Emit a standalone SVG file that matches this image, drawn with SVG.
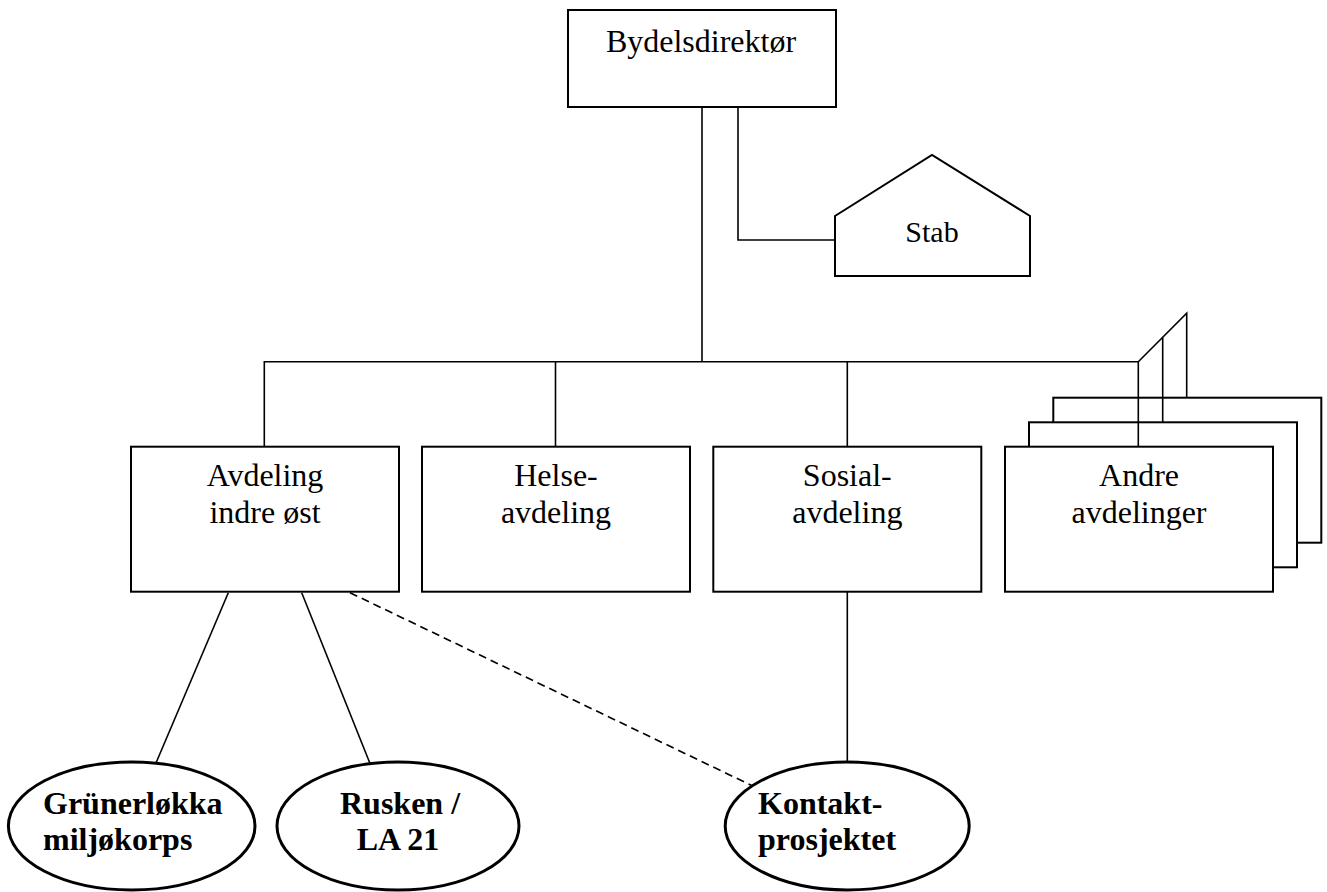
<svg xmlns="http://www.w3.org/2000/svg" width="1327" height="892" viewBox="0 0 1327 892">
<style>
.box{fill:#fff;stroke:#000;stroke-width:2}
.ell{fill:#fff;stroke:#000;stroke-width:3}
.ln{fill:none;stroke:#000;stroke-width:1.6}
.dash{fill:none;stroke:#000;stroke-width:1.6;stroke-dasharray:8 5}
.t{font-family:'Liberation Serif','Times New Roman',Times,'DejaVu Serif',serif;font-size:32px;font-weight:normal;font-style:normal;fill:#000;text-anchor:middle}
.b{font-family:'Liberation Serif','Times New Roman',Times,'DejaVu Serif',serif;font-size:32px;font-weight:bold;fill:#000}
</style>
<rect width="1327" height="892" fill="#fff"/>
<g id="bydelsdirektor">
<rect class="box" x="568" y="10" width="268" height="97"/>
<text class="t" x="701" y="52">Bydelsdirektør</text>
</g>
<g id="stab">
<polygon class="box" points="835,216 932,155 1030,216 1030,276 835,276"/>
<text class="t" x="932" y="242" style="font-size:30px">Stab</text>
</g>
<g id="avdeling-indre-ost">
<rect class="box" x="131" y="446.7" width="268" height="145"/>
<text class="t" x="265" y="486">Avdeling</text>
<text class="t" x="265" y="523">indre øst</text>
</g>
<g id="helseavdeling">
<rect class="box" x="422" y="446.7" width="268" height="145"/>
<text class="t" x="556" y="486">Helse-</text>
<text class="t" x="556" y="523">avdeling</text>
</g>
<g id="sosialavdeling">
<rect class="box" x="713.3" y="446.7" width="268" height="145"/>
<text class="t" x="847.3" y="486">Sosial-</text>
<text class="t" x="847.3" y="523">avdeling</text>
</g>
<g id="andre-avdelinger">
<rect class="box" x="1053.3" y="397.7" width="268" height="145"/>
<rect class="box" x="1029" y="422.3" width="268" height="145"/>
<rect class="box" x="1005" y="446.7" width="268" height="145"/>
<text class="t" x="1139" y="486">Andre</text>
<text class="t" x="1139" y="523">avdelinger</text>
</g>
<g id="grunerlokka-miljokorps">
<ellipse class="ell" cx="131.7" cy="826" rx="123.3" ry="64"/>
<text class="b" x="43" y="814">Grünerløkka</text>
<text class="b" x="43" y="850">miljøkorps</text>
</g>
<g id="rusken-la21">
<ellipse class="ell" cx="398" cy="826" rx="121" ry="64"/>
<text class="b" x="400" y="814" text-anchor="middle">Rusken /</text>
<text class="b" x="398" y="850" text-anchor="middle">LA 21</text>
</g>
<g id="kontaktprosjektet">
<ellipse class="ell" cx="847.2" cy="826" rx="122" ry="64"/>
<text class="b" x="758" y="814">Kontakt-</text>
<text class="b" x="758" y="850">prosjektet</text>
</g>
<g id="connectors">
<path class="ln" d="M702,107 V361.7"/>
<path class="ln" d="M738,107 V240 H835"/>
<path class="ln" d="M264.3,446.7 V361.7 H1138.3 V446.7"/>
<path class="ln" d="M555.5,361.7 V446.7"/>
<path class="ln" d="M847.3,361.7 V446.7"/>
<path class="ln" d="M1138.3,361.7 L1186.7,313.3 V397.7"/>
<path class="ln" d="M1162.7,337.7 V422.3"/>
<path class="ln" d="M228.3,592.7 L156,763"/>
<path class="ln" d="M301.7,592.7 L370,763.5"/>
<path class="ln" d="M847.3,591.7 V762"/>
<path class="dash" d="M350,592.7 L751.7,785.5"/>
</g>
</svg>
